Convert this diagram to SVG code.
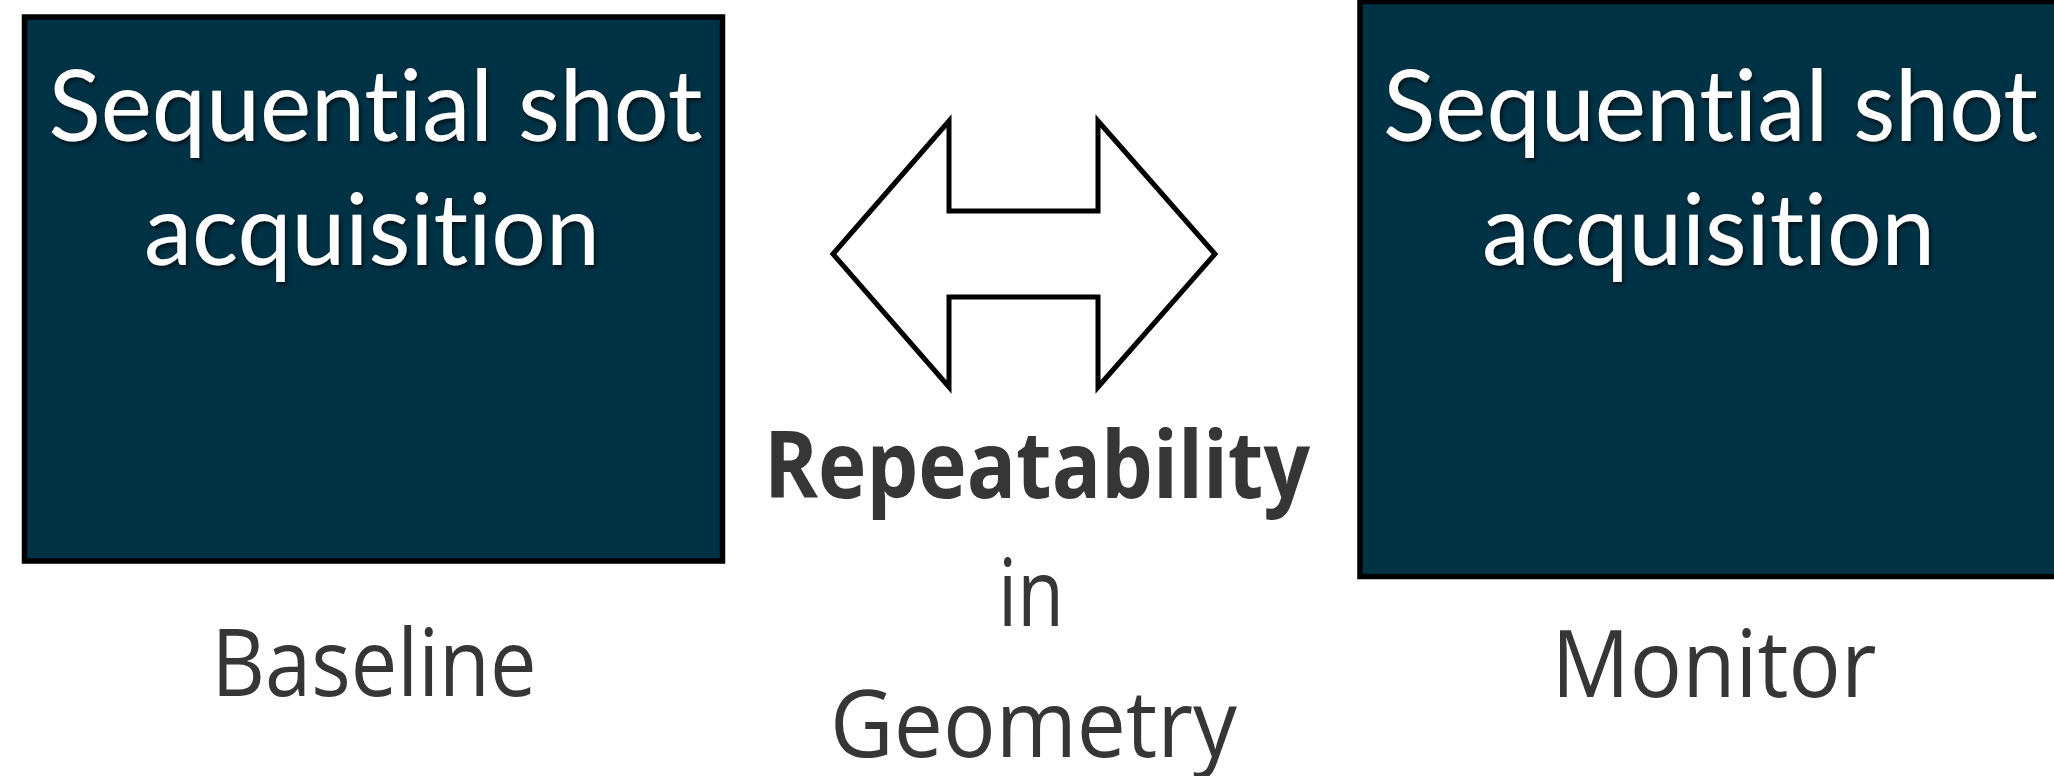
<svg xmlns="http://www.w3.org/2000/svg" width="2054" height="776" viewBox="0 0 2054 776">
  <defs>
    <filter id="shadow" x="-10%" y="-10%" width="120%" height="130%">
      <feDropShadow dx="2" dy="3" stdDeviation="2" flood-color="#000" flood-opacity="0.6"/>
    </filter>
  </defs>
  <style>
    .box { fill: #003245; stroke: #000; stroke-width: 5.5; }
    .boxtext { font-family: Lato, "Open Sans", sans-serif; font-size: 98px; fill: #ffffff; text-anchor: middle; font-variant-ligatures: none; font-feature-settings: "liga" 0; }
    .label { font-family: "Open Sans", "Noto Sans", sans-serif; font-size: 93px; fill: #363636; text-anchor: middle; }
    .bold { font-weight: bold; }
    .arrow { fill: #ffffff; stroke: #000; stroke-width: 5; stroke-linejoin: miter; }
  </style>
  <rect width="2054" height="776" fill="#ffffff"/>

  <g id="baseline-node">
    <rect class="box" x="24.5" y="17" width="698" height="544"/>
    <g filter="url(#shadow)">
      <text class="boxtext" x="375.5" y="141" textLength="654" lengthAdjust="spacingAndGlyphs">Sequential shot</text>
      <text class="boxtext" x="372" y="265" textLength="456" lengthAdjust="spacingAndGlyphs">acquisition</text>
    </g>
    <text class="label" x="374" y="696" textLength="325" lengthAdjust="spacingAndGlyphs">Baseline</text>
  </g>

  <g id="monitor-node">
    <rect class="box" x="1360" y="1.5" width="720" height="575"/>
    <g filter="url(#shadow)">
      <text class="boxtext" x="1710.5" y="141" textLength="655" lengthAdjust="spacingAndGlyphs">Sequential shot</text>
      <text class="boxtext" x="1708.5" y="265" textLength="453" lengthAdjust="spacingAndGlyphs">acquisition</text>
    </g>
    <text class="label" x="1714" y="697" textLength="325" lengthAdjust="spacingAndGlyphs">Monitor</text>
  </g>

  <g id="connectors">
    <polygon class="arrow" points="833,254 949,121 949,211 1098,211 1098,121 1215,254 1098,387 1098,297 949,297 949,387"/>
  </g>

  <g id="repeatability-label">
    <text class="label bold" x="1037" y="498" textLength="546" lengthAdjust="spacingAndGlyphs">Repeatability</text>
    <text class="label" x="1031" y="626" textLength="66" lengthAdjust="spacingAndGlyphs">in</text>
    <text class="label" x="1033.5" y="757" textLength="407" lengthAdjust="spacingAndGlyphs">Geometry</text>
  </g>
</svg>
